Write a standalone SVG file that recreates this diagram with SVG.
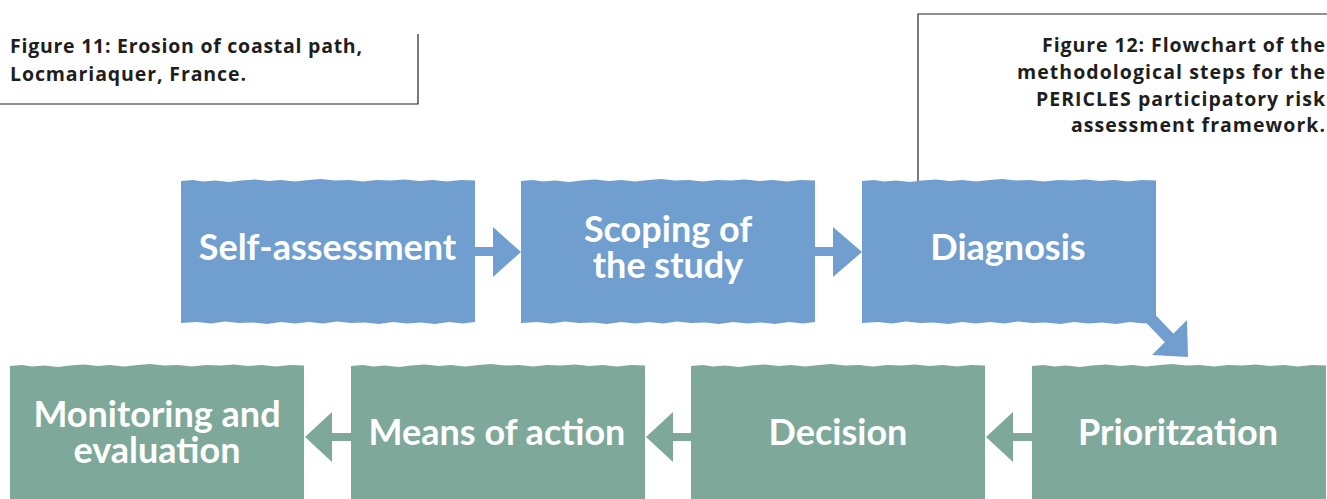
<svg xmlns="http://www.w3.org/2000/svg" width="1327" height="499" viewBox="0 0 1327 499">
<style>
.cap{font-family:"Open Sans","Liberation Sans",sans-serif;font-weight:700;font-size:19.5px;fill:#1e1e1e}
.lbl{font-family:Lato,"Liberation Sans",sans-serif;font-weight:700;font-size:36px;fill:#ffffff;text-anchor:middle}
.blue{fill:#709fcf}
.green{fill:#7ea89a}
.frame{fill:none;stroke:#222;stroke-width:1.2}
</style>
<defs>
<path id="box" d="M0,1 L12,0 L22,1.5 L34,0.5 L48,2 L60,0.5 L74,-0.5 L88,1 L100,0 L114,1.5 L128,0 L140,-1 L154,0.5 L168,0 L182,1.5 L196,0 L210,0.5 L224,-0.5 L238,1 L252,0 L266,1.5 L280,0 L294,0.5 L294,142 L282,143.5 L268,142 L254,144 L240,142.5 L226,143.5 L212,142 L198,144 L184,142.5 L170,143 L156,141.5 L142,143.5 L128,142 L114,143.5 L100,142 L86,144 L72,142.5 L58,143 L44,141.5 L30,143.5 L16,142 L0,143 Z"/>
</defs>
<g id="caption11">
<polyline class="frame" points="418,34 418,104 0,104"/>
<text class="cap" x="10" y="53" textLength="352">Figure 11: Erosion of coastal path,</text>
<text class="cap" x="10" y="81" textLength="236">Locmariaquer, France.</text>
</g>
<g id="caption12">
<polyline class="frame" points="1327,14 918,14 918,181"/>
<text class="cap" x="1042" y="52" textLength="283">Figure 12: Flowchart of the</text>
<text class="cap" x="1017" y="79" textLength="308">methodological steps for the</text>
<text class="cap" x="1036" y="106" textLength="289">PERICLES participatory risk</text>
<text class="cap" x="1071" y="132" textLength="254">assessment framework.</text>
</g>
<g id="connectors">
<g class="blue">
<rect x="472" y="247" width="23" height="9"/><polygon points="493,227 521,252 493,277"/>
<rect x="812" y="247" width="23" height="9"/><polygon points="833,227 862,252 833,277"/>
<line x1="1150" y1="318" x2="1173" y2="342" stroke="#709fcf" stroke-width="12"/>
<polygon points="1152,355 1187,320 1188,357"/>
</g>
<g class="green">
<rect x="330" y="433" width="23" height="8"/><polygon points="332,412 305,437 332,462"/>
<rect x="671" y="433" width="22" height="8"/><polygon points="673,412 646,437 673,462"/>
<rect x="1011" y="433" width="23" height="8"/><polygon points="1013,412 986,437 1013,462"/>
</g>
</g>
<g id="n1"><use href="#box" class="blue" x="181" y="180"/><text class="lbl" x="327.5" y="260">Self-assessment</text></g>
<g id="n2"><use href="#box" class="blue" x="521" y="180"/><text class="lbl" x="668" y="242">Scoping of<tspan x="668" y="278">the study</tspan></text></g>
<g id="n3"><use href="#box" class="blue" x="862" y="180"/><text class="lbl" x="1008" y="260">Diagnosis</text></g>
<g id="n4"><use href="#box" class="green" x="1032" y="365"/><text class="lbl" x="1178" y="445">Prioritzation</text></g>
<g id="n5"><use href="#box" class="green" x="691" y="365"/><text class="lbl" x="838" y="445">Decision</text></g>
<g id="n6"><use href="#box" class="green" x="351" y="365"/><text class="lbl" x="497" y="445">Means of action</text></g>
<g id="n7"><use href="#box" class="green" x="10" y="365"/><text class="lbl" x="157" y="427">Monitoring and<tspan x="157" y="463">evaluation</tspan></text></g>
</svg>
